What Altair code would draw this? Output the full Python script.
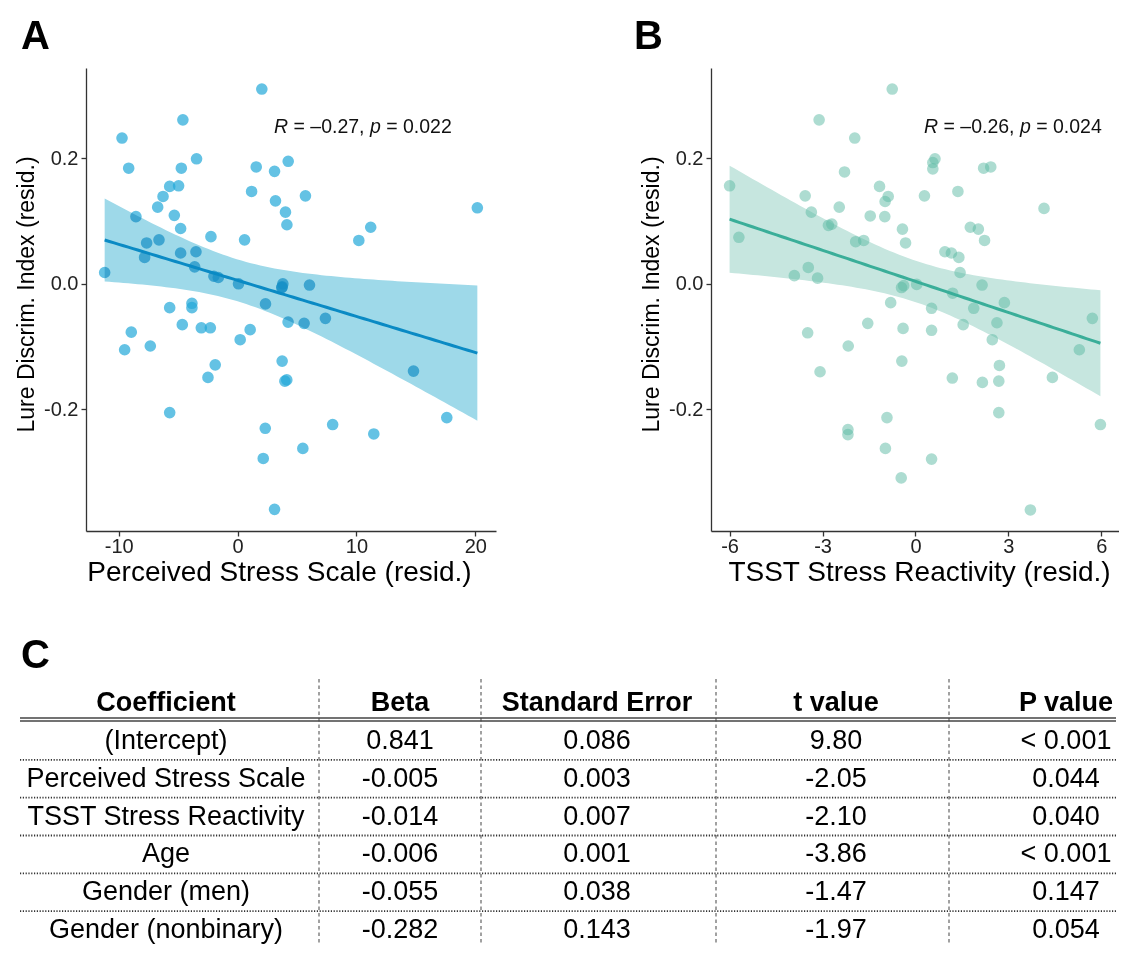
import altair as alt
import numpy as np
import pandas as pd

FONT = "Liberation Sans"

# ---------------- Panel A data (Perceived Stress Scale resid. vs Lure Discrim. resid.)
a_x = [2.04, -4.6, -9.72, -9.16, -3.45, -4.73, -5.71, -4.96, -6.27, -6.72,
       -5.32, -4.79, -8.55, -2.24, 0.59, 1.57, 3.11, 4.26, 1.18, 3.19,
       4.03, 4.15, 5.71, 20.17, 11.2, 10.2, -7.65, -6.61, -7.82, -4.79,
       -3.5, -3.61, -11.18, -1.99, -1.62, 0.08, 3.81, 3.72, 6.05, -3.84,
       -3.84, -5.71, 2.35, -4.65, -3.05, -2.29, -8.94, -9.5, -7.34, 1.06,
       0.22, 4.25, 5.6, 7.39, 3.75, -1.88, -2.49, 3.98, 4.14, -5.71,
       2.33, 2.16, 3.11, 14.8, 8.0, 11.46, 17.6, 5.49, 3.75]
a_y = [0.310, 0.261, 0.232, 0.184, 0.199, 0.184, 0.155, 0.156, 0.139, 0.122,
       0.109, 0.088, 0.107, 0.075, 0.070, 0.186, 0.179, 0.195, 0.147, 0.132,
       0.114, 0.094, 0.140, 0.121, 0.090, 0.069, 0.065, 0.070, 0.042, 0.049,
       0.051, 0.027, 0.018, 0.012, 0.010, 0.000, 0.000, -0.006, -0.002, -0.031,
       -0.038, -0.038, -0.032, -0.065, -0.070, -0.070, -0.077, -0.105, -0.099, -0.073,
       -0.089, -0.061, -0.063, -0.055, -0.123, -0.129, -0.149, -0.155, -0.153, -0.205,
       -0.230, -0.278, -0.359, -0.139, -0.224, -0.239, -0.213, -0.262, -0.005]

# ---------------- Panel B data (TSST Stress Reactivity resid. vs Lure Discrim. resid.)
b_x = [-0.75, -3.11, -1.96, -2.29, -6.0, -3.56, -1.16, -0.88, -0.98, -3.36,
       -2.46, -1.46, -0.99, -2.81, -2.70, -1.93, -1.67, -0.42, -0.32, -5.7,
       -3.91, -3.46, -3.16, -0.45, -0.38, -0.8, 0.63, 0.56, 0.56, 2.2,
       2.43, 0.29, 1.37, 4.15, 1.77, 2.03, 2.23, 0.95, 1.16, 1.40,
       1.44, 0.04, 2.15, 1.2, 2.87, -1.54, -3.48, -2.17, -0.40, -3.08,
       -0.44, -0.92, -2.18, -2.18, -0.97, -0.46, 0.52, 1.88, 0.52, 1.54,
       2.63, 2.48, 5.71, 5.29, 4.42, 1.19, 2.16, 2.69, 2.71, 2.69,
       5.97, 0.52, 3.71]
b_y = [0.310, 0.261, 0.232, 0.178, 0.156, 0.140, 0.155, 0.139, 0.131, 0.114,
       0.122, 0.108, 0.107, 0.093, 0.095, 0.067, 0.069, 0.087, 0.065, 0.074,
       0.013, 0.026, 0.009, -0.006, -0.003, -0.030, 0.199, 0.193, 0.183, 0.184,
       0.186, 0.140, 0.147, 0.120, 0.090, 0.087, 0.069, 0.051, 0.049, 0.042,
       0.018, -0.001, -0.002, -0.015, -0.030, -0.063, -0.078, -0.099, -0.071, -0.140,
       -0.123, -0.213, -0.232, -0.240, -0.262, -0.309, -0.039, -0.039, -0.074, -0.065,
       -0.062, -0.089, -0.055, -0.105, -0.149, -0.150, -0.157, -0.155, -0.130, -0.205,
       -0.224, -0.279, -0.360]

a_stat = ["R", "= \u20130.27,", "p", "= 0.022"]
b_stat = ["R", "= \u20130.26,", "p", "= 0.024"]

y_title = "Lure Discrim. Index (resid.)"
a_xtitle = "Perceived Stress Scale (resid.)"
b_xtitle = "TSST Stress Reactivity (resid.)"
a_xticks = [-10, 0, 10, 20]
b_xticks = [-6, -3, 0, 3, 6]
y_ticks = [-0.2, 0.0, 0.2]

# ---------------- Table C data
headers = ["Coefficient", "Beta", "Standard Error", "t value", "P value"]
coef = ["(Intercept)", "Perceived Stress Scale", "TSST Stress Reactivity", "Age",
        "Gender (men)", "Gender (nonbinary)"]
beta = ["0.841", "-0.005", "-0.014", "-0.006", "-0.055", "-0.282"]
se = ["0.086", "0.003", "0.007", "0.001", "0.038", "0.143"]
tval = ["9.80", "-2.05", "-2.10", "-3.86", "-1.47", "-1.97"]
pval = ["< 0.001", "0.044", "0.040", "< 0.001", "0.147", "0.054"]


def fit_band(xs, ys, n=80):
    x = np.asarray(xs, float)
    y = np.asarray(ys, float)
    N = len(x)
    xm = x.mean()
    sxx = ((x - xm) ** 2).sum()
    b1 = ((x - xm) * (y - y.mean())).sum() / sxx
    b0 = y.mean() - b1 * xm
    s = np.sqrt(((y - (b0 + b1 * x)) ** 2).sum() / (N - 2))
    g = np.linspace(x.min(), x.max(), n)
    fit = b0 + b1 * g
    sef = s * np.sqrt(1.0 / N + (g - xm) ** 2 / sxx)
    t = 1.995
    return pd.DataFrame({"x": g, "fit": fit, "lo": fit - t * sef, "hi": fit + t * sef})


def one(text):
    return pd.DataFrame({"t": [text]})


def panel(xs, ys, xdom, xticks, xtitle, title_x, pt_color, pt_op, band_color,
          band_op, band_blend, line_color, letter, letter_dx, stat, stat_x0, width):
    ydom = [-0.3935, 0.3435]
    xsc = alt.Scale(domain=xdom, nice=False, zero=False)
    ysc = alt.Scale(domain=ydom, nice=False, zero=False)
    xax = alt.Axis(values=xticks, title=xtitle, titleX=title_x, labelPadding=0,
                   titlePadding=2, titleFontSize=28,
                   labelExpr="replace(format(datum.value, 'd'), '\u2212', '-')")
    yax = alt.Axis(values=y_ticks, title=y_title, labelPadding=3,
                   titleFontSize=23, titlePadding=5, titleY=226,
                   labelExpr="replace(format(datum.value, '.1f'), '\u2212', '-')")
    pts = pd.DataFrame({"x": xs, "y": ys})
    band = fit_band(xs, ys)

    points = alt.Chart(pts).mark_circle(size=135, color=pt_color, opacity=pt_op).encode(
        x=alt.X("x:Q", scale=xsc, axis=xax),
        y=alt.Y("y:Q", scale=ysc, axis=yax),
    )
    area_kw = dict(color=band_color, opacity=band_op)
    if band_blend:
        area_kw["blend"] = band_blend
    area = alt.Chart(band).mark_area(**area_kw).encode(
        x="x:Q", y="lo:Q", y2="hi:Q")
    line = alt.Chart(band).mark_line(color=line_color, strokeWidth=3).encode(
        x="x:Q", y="fit:Q")

    offs = [0, 19.5, 95.9, 112.2]
    texts = []
    for piece, off, it in zip(stat, offs, [True, False, True, False]):
        texts.append(alt.Chart(one(piece)).mark_text(
            font=FONT, fontSize=19.5, fontStyle="italic" if it else "normal",
            align="left", baseline="alphabetic", color="#111").encode(
            x=alt.value(stat_x0 + off), y=alt.value(65), text="t:N"))
    lab = alt.Chart(one(letter)).mark_text(
        font=FONT, fontSize=40, fontWeight="bold", align="left",
        baseline="alphabetic", color="#000").encode(
        x=alt.value(letter_dx), y=alt.value(-19), text="t:N")

    if band_blend:
        layers = [points, area, line]
    else:
        layers = [area, points, line]
    return alt.layer(*layers, *texts, lab).properties(width=width, height=463)


pA = panel(a_x, a_y, [-12.75, 21.74], a_xticks, a_xtitle, 193,
           "#22A8D8", 0.7, "#9ED9E9", 1.0, "multiply", "#0A8AC4",
           "A", -65, a_stat, 188, 410)
pB = panel(b_x, b_y, [-6.6, 6.57], b_xticks, b_xtitle, 208,
           "#5BB9A3", 0.5, "#C6E6DF", 1.0, None, "#3AAE99",
           "B", -77, b_stat, 213, 408)

top = alt.hconcat(pA, pB, spacing=138)

# ---------------- Table (coordinates relative to panel A's plot origin)
TW, TH = 1030, 317
col_x = [80, 314, 511, 750, 980]
cols = [coef, beta, se, tval, pval]
row_scale = alt.Scale(type="point", domain=coef, range=[115, 304], padding=0)

tlayers = []
for vx in [233, 395, 630, 863]:
    tlayers.append(alt.Chart(one("")).mark_rule(color="#555", strokeWidth=1.1,
                                                strokeDash=[3.5, 3]).encode(
        x=alt.value(vx), y=alt.value(53), y2=alt.value(TH)))
for hy in [92, 95]:
    tlayers.append(alt.Chart(one("")).mark_rule(color="#444", strokeWidth=1.3).encode(
        x=alt.value(-66), x2=alt.value(TW), y=alt.value(hy)))
for ry in [133.9, 171.7, 209.5, 247.3, 285.1]:
    tlayers.append(alt.Chart(one("")).mark_rule(color="#333", strokeWidth=1.8,
                                                strokeDash=[1.2, 1.6]).encode(
        x=alt.value(-66), x2=alt.value(TW), y=alt.value(ry)))
for cx, h, vals in zip(col_x, headers, cols):
    tlayers.append(alt.Chart(one(h)).mark_text(
        font=FONT, fontSize=27, fontWeight="bold", color="#000", baseline="middle").encode(
        x=alt.value(cx), y=alt.value(77), text="t:N"))
    df = pd.DataFrame({"row": coef, "val": vals})
    tlayers.append(alt.Chart(df).mark_text(
        font=FONT, fontSize=27, color="#000", baseline="middle").encode(
        x=alt.value(cx),
        y=alt.Y("row:N", scale=row_scale, axis=None),
        text="val:N"))
tlayers.append(alt.Chart(one("C")).mark_text(
    font=FONT, fontSize=40, fontWeight="bold", align="left", baseline="alphabetic",
    color="#000").encode(x=alt.value(-65), y=alt.value(42), text="t:N"))

table = alt.layer(*tlayers).properties(width=TW, height=TH)

chart = alt.vconcat(top, table, spacing=40).properties(
    padding={"left": 7, "top": 9, "right": 0, "bottom": 0}
).configure_view(stroke=None).configure_axis(
    grid=False, domainColor="#333", domainWidth=1.3, tickColor="#333", tickWidth=1.3,
    tickSize=5, labelFont=FONT, labelFontSize=20, labelColor="#222",
    titleFont=FONT, titleFontWeight="normal", titleColor="#000",
)

chart.save("out.html", embed_options={"renderer": "svg", "actions": False})
